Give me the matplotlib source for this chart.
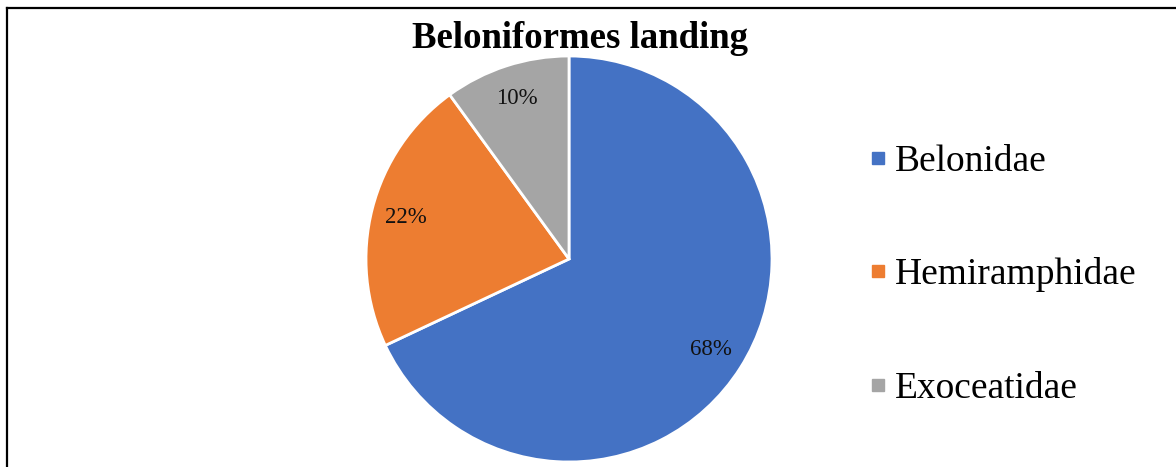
import matplotlib.pyplot as plt
from matplotlib.lines import Line2D

labels = ["Belonidae", "Hemiramphidae", "Exoceatidae"]
values = [68, 22, 10]
colors = ["#4472C4", "#ED7D31", "#A5A5A5"]
title = "Beloniformes landing"

W, H = 1176, 467
fig = plt.figure(figsize=(W / 100, H / 100), dpi=100)
plt.rcParams['font.family'] = ['Liberation Serif', 'DejaVu Serif']

# frame (only top and left edges are visible in the crop)
fig.add_artist(Line2D([7 / W, 7 / W], [0, 1 - 8 / H], color='black', lw=1.6))
fig.add_artist(Line2D([7 / W, 1], [1 - 8 / H, 1 - 8 / H], color='black', lw=1.6))

# pie: centre (569, 259), radius 203 px
cx, cy, r = 569, 259, 203
ax = fig.add_axes([(cx - r) / W, (H - cy - r) / H, 2 * r / W, 2 * r / H])
wedges, texts, autotexts = ax.pie(values, colors=colors, startangle=90, counterclock=False,
                                  autopct='%1.0f%%', pctdistance=0.83, radius=1,
                                  wedgeprops=dict(edgecolor='white', linewidth=2),
                                  textprops=dict(fontsize=16.5, color='#111111'))
ax.set_aspect('equal')
ax.set_xlim(-1, 1)
ax.set_ylim(-1, 1)

fig.text(580 / W, 1 - 38 / H, title, ha='center', va='center',
         fontsize=26.5, fontweight='bold')

handles = [Line2D([], [], marker='s', linestyle='none', markersize=9,
                  markerfacecolor=c, markeredgecolor=c) for c in colors]
fig.legend(handles, labels, loc='center left', bbox_to_anchor=(854 / W, 1 - 275 / H),
           frameon=False, fontsize=27, handlelength=0.5, handletextpad=0.2,
           labelspacing=2.1, borderaxespad=0)

fig.savefig("out.png", dpi=100)
